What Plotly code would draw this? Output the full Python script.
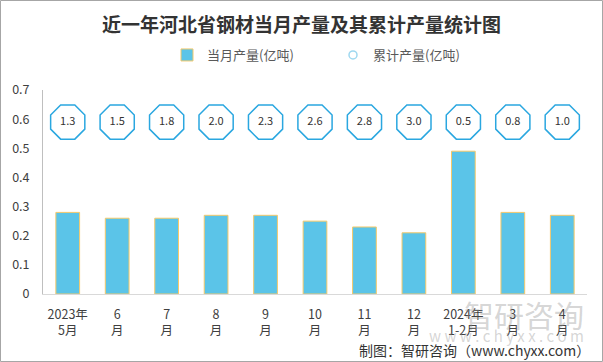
import plotly.graph_objects as go

categories = ["2023年<br>5月", "6<br>月", "7<br>月", "8<br>月", "9<br>月", "10<br>月",
              "11<br>月", "12<br>月", "2024年<br>1-2月", "3<br>月", "4<br>月"]
monthly = [0.28, 0.26, 0.26, 0.27, 0.27, 0.25, 0.23, 0.21, 0.49, 0.28, 0.27]
cumulative = [1.3, 1.5, 1.8, 2.0, 2.3, 2.6, 2.8, 3.0, 0.5, 0.8, 1.0]

W, H = 603, 362
L, R, T, B = 43, 16, 90, 68
pw, ph = W - L - R, H - T - B

FONT = "Noto Sans CJK SC"
LABEL_ROW = 0.59  # fixed height of the cumulative labels row

fig = go.Figure()
fig.add_trace(go.Bar(
    x=categories, y=monthly, name="当月产量(亿吨)",
    marker=dict(color="#5BC4E8", line=dict(color="#F5C96A", width=1)),
    width=0.48,
))
fig.add_trace(go.Scatter(
    x=categories, y=[LABEL_ROW] * len(categories), name="累计产量(亿吨)",
    mode="markers+text", showlegend=False,
    text=[f"{v:.1f}" for v in cumulative], textposition="middle center",
    textfont=dict(size=11, color="#333333", family=FONT),
    marker=dict(symbol="octagon", size=37, color="white",
                line=dict(color="#2AA7E0", width=1.5)),
))
# legend entry for the cumulative series
fig.add_trace(go.Scatter(
    x=[None], y=[None], name="累计产量(亿吨)", mode="markers",
    marker=dict(symbol="circle-open", size=8, color="#9FD8F0", line=dict(width=1.5)),
))

fig.update_layout(
    width=W, height=H,
    margin=dict(l=L, r=R, t=T, b=B, autoexpand=False),
    paper_bgcolor="white", plot_bgcolor="white",
    font=dict(family=FONT, size=12, color="#404040"),
    title=dict(text="<b>近一年河北省钢材当月产量及其累计产量统计图</b>",
               x=0.5, xanchor="center", y=1 - 25 / H, yanchor="middle",
               font=dict(size=19, color="#333333", family=FONT)),
    legend=dict(orientation="h", x=(167 - L) / pw, xanchor="left",
                y=1 + (T - 55) / ph, yanchor="middle",
                font=dict(size=13, color="#595959"), itemwidth=30,
                entrywidth=121, entrywidthmode="pixels",
                bgcolor="rgba(0,0,0,0)"),
    showlegend=True,
)
fig.update_xaxes(type="category", range=[-0.5, len(categories) - 0.5],
                 showline=True, linecolor="#D9D9D9", linewidth=1,
                 ticks="", showgrid=False, ticklabelstandoff=9,
                 tickfont=dict(size=12.5, color="#404040"))
fig.update_yaxes(range=[0, 0.7], dtick=0.1, showline=True, linecolor="#BFBFBF", linewidth=1,
                 showgrid=False, zeroline=False, ticks="", ticklabelstandoff=10,
                 tickfont=dict(size=12.5, color="#404040"))

# watermark
fig.add_annotation(text="智研咨询", xref="paper", yref="paper",
                   x=(586 - L) / pw, y=-(314 - 294) / ph, xanchor="right", yanchor="middle",
                   showarrow=False, font=dict(size=30, color="rgba(150,150,150,0.4)", family=FONT))
fig.add_annotation(text="w w w . c h y x x . c o m", xref="paper", yref="paper",
                   x=(586 - L) / pw, y=-(335 - 294) / ph, xanchor="right", yanchor="middle",
                   showarrow=False, font=dict(size=15, color="rgba(150,150,150,0.4)", family=FONT))
# footer
fig.add_annotation(text="制图：智研咨询（www.chyxx.com）", xref="paper", yref="paper",
                   x=(592 - L) / pw, y=-(350 - 294) / ph, xanchor="right", yanchor="middle",
                   showarrow=False, font=dict(size=14, color="#333333", family=FONT))
# border
fig.add_shape(type="rect", xref="paper", yref="paper",
              x0=-(L - 0.5) / pw, x1=1 + (R - 0.5) / pw,
              y0=-(B - 0.5) / ph, y1=1 + (T - 0.5) / ph,
              line=dict(color="#A6A6A6", width=1), layer="above")

fig.write_html("out.html", config={"displayModeBar": False},
               post_script="document.body.style.margin='0';document.body.style.overflow='hidden';")
